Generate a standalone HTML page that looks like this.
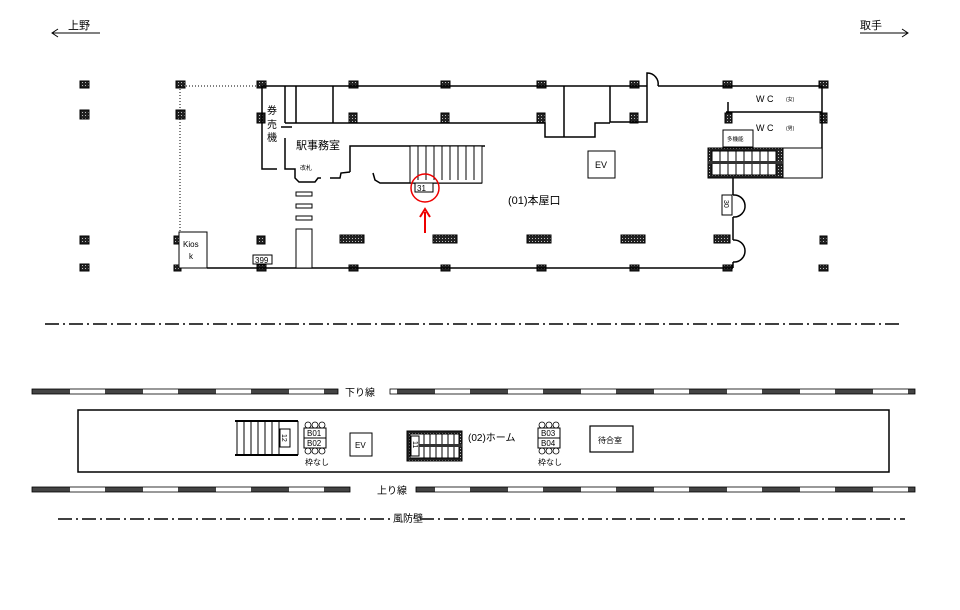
<!DOCTYPE html>
<html><head><meta charset="utf-8"><style>
body{margin:0;background:#fff}
text{font-family:"Liberation Sans","Noto Sans CJK JP",sans-serif;fill:#000}
</style></head><body>
<svg width="960" height="605" viewBox="0 0 960 605" xmlns="http://www.w3.org/2000/svg">
<defs>
<pattern id="rail" x="32" y="0" width="73" height="10" patternUnits="userSpaceOnUse">
<rect x="0" y="0" width="73" height="10" fill="#fff"/>
<rect x="0" y="0" width="38" height="10" fill="#444"/>
</pattern>
<pattern id="hat" width="3" height="3" patternUnits="userSpaceOnUse"><rect width="3" height="3" fill="#222"/><rect x="1" y="1" width="1" height="1" fill="#bbb"/></pattern>
</defs>
<g stroke="#000" stroke-width="1" fill="none">
<line x1="52" y1="33" x2="100" y2="33"/><polyline points="58,29 52,33 58,37"/>
<line x1="860" y1="33" x2="908" y2="33"/><polyline points="902,29 908,33 902,37"/>
</g>
<text x="68" y="29" font-size="11">上野</text>
<text x="860" y="29" font-size="11">取手</text>

<g fill="url(#hat)" stroke="#000" stroke-width="1">
<rect x="80" y="81" width="9" height="7"/><rect x="80" y="110" width="9" height="9"/><rect x="80" y="236" width="9" height="8"/><rect x="80" y="264" width="9" height="7"/>
<rect x="176" y="81" width="9" height="7"/><rect x="176" y="110" width="9" height="9"/><rect x="174" y="236" width="7" height="8"/><rect x="174" y="265" width="7" height="6"/>
<rect x="257" y="81" width="9" height="7"/><rect x="257" y="113" width="8" height="10"/><rect x="257" y="236" width="8" height="8"/><rect x="257" y="265" width="9" height="6"/>
<rect x="349" y="81" width="9" height="7"/><rect x="349" y="113" width="8" height="10"/><rect x="340" y="235" width="24" height="8"/><rect x="349" y="265" width="9" height="6"/>
<rect x="441" y="81" width="9" height="7"/><rect x="441" y="113" width="8" height="10"/><rect x="433" y="235" width="24" height="8"/><rect x="441" y="265" width="9" height="6"/>
<rect x="537" y="81" width="9" height="7"/><rect x="537" y="113" width="8" height="10"/><rect x="527" y="235" width="24" height="8"/><rect x="537" y="265" width="9" height="6"/>
<rect x="630" y="81" width="9" height="7"/><rect x="630" y="113" width="8" height="10"/><rect x="621" y="235" width="24" height="8"/><rect x="630" y="265" width="9" height="6"/>
<rect x="723" y="81" width="9" height="7"/><rect x="725" y="113" width="7" height="10"/><rect x="714" y="235" width="16" height="8"/><rect x="723" y="265" width="9" height="6"/>
<rect x="819" y="81" width="9" height="7"/><rect x="820" y="113" width="7" height="10"/><rect x="820" y="236" width="7" height="8"/><rect x="819" y="265" width="9" height="6"/>
</g>

<g stroke="#000" stroke-width="1.5" fill="none">
<line x1="262" y1="86" x2="647" y2="86"/><line x1="658" y1="86" x2="822" y2="86"/>
<line x1="207" y1="268" x2="733" y2="268"/>
<line x1="822" y1="86" x2="822" y2="178"/>
<polyline points="285,123 545,123 545,137 595,137 595,123 610,123"/>
<line x1="285" y1="86" x2="285" y2="123"/><line x1="296" y1="86" x2="296" y2="123"/><line x1="333" y1="86" x2="333" y2="123"/>
<line x1="564" y1="86" x2="564" y2="137"/>
<polyline points="610,86 610,122 647,122 647,86"/>
<path d="M647,86 L647,73 A11,11 0 0 1 658,86"/>
<polyline points="350,172 350,146 485,146"/>
<polyline points="262,86 262,169 277,169"/>
<line x1="281" y1="127" x2="292" y2="127"/>
<polyline points="285,138 285,169 295,169 295,178 299,182 315,182 318,178 321,178"/>
<polyline points="330,178 340,178 341,173 350,172"/>
<polyline points="373,173 375,180 380,183 482,183"/>
<line x1="726" y1="112" x2="822" y2="112"/><line x1="728" y1="102" x2="728" y2="112"/>
<line x1="733" y1="178" x2="733" y2="195"/><line x1="733" y1="217" x2="733" y2="240"/><line x1="733" y1="262" x2="733" y2="268"/>
<path d="M733,195 A11,11 0 0 1 745,205 A11,11 0 0 1 733,217"/>
<path d="M733,240 A11,11 0 0 1 745,251 A11,11 0 0 1 733,262"/>
</g>
<line x1="180" y1="86" x2="262" y2="86" stroke="#000" stroke-dasharray="1 2"/>
<line x1="180" y1="86" x2="180" y2="268" stroke="#000" stroke-dasharray="1 2"/>
<line x1="180" y1="268" x2="207" y2="268" stroke="#000" stroke-dasharray="1 2"/>

<g stroke="#000" stroke-width="1" fill="#fff">
<rect x="410" y="146" width="72" height="37"/>
<g><line x1="418" y1="146" x2="418" y2="180"/><line x1="426" y1="146" x2="426" y2="180"/><line x1="434" y1="146" x2="434" y2="180"/><line x1="442" y1="146" x2="442" y2="180"/><line x1="450" y1="146" x2="450" y2="180"/><line x1="458" y1="146" x2="458" y2="180"/><line x1="466" y1="146" x2="466" y2="180"/><line x1="474" y1="146" x2="474" y2="180"/></g>
<rect x="415" y="183" width="18" height="9"/>
<rect x="588" y="151" width="27" height="27"/>
<rect x="179" y="232" width="28" height="36"/>
<rect x="253" y="255" width="19" height="9"/>
<rect x="296" y="192" width="16" height="4"/><rect x="296" y="204" width="16" height="4"/><rect x="296" y="216" width="16" height="4"/>
<rect x="296" y="229" width="16" height="39"/>
<rect x="723" y="130" width="30" height="17"/>
<rect x="708" y="148" width="75" height="30" fill="url(#hat)"/>
<rect x="712" y="151" width="64" height="24" fill="#fff"/>
<rect x="783" y="148" width="39" height="30"/>
<rect x="722" y="195" width="10" height="20"/>
</g>
<g stroke="#000" stroke-width="1"><line x1="720" y1="151" x2="720" y2="175"/><line x1="728" y1="151" x2="728" y2="175"/><line x1="736" y1="151" x2="736" y2="175"/><line x1="744" y1="151" x2="744" y2="175"/><line x1="752" y1="151" x2="752" y2="175"/><line x1="760" y1="151" x2="760" y2="175"/><line x1="768" y1="151" x2="768" y2="175"/></g>
<rect x="708" y="161" width="75" height="3" fill="#333"/>
<circle cx="425" cy="188" r="14" fill="none" stroke="#e00" stroke-width="1.5"/>
<line x1="425" y1="233" x2="425" y2="212" stroke="#e00" stroke-width="2"/>
<polyline points="420,217 425,209 430,217" fill="none" stroke="#e00" stroke-width="2"/>

<text x="417" y="191" font-size="8">31</text>
<text x="595" y="168" font-size="9">EV</text>
<text x="508" y="204" font-size="11">(01)本屋口</text>
<text x="296" y="149" font-size="11">駅事務室</text>
<text x="300" y="170" font-size="6">改札</text>
<text x="267" y="114" font-size="10">券</text><text x="267" y="128" font-size="10">売</text><text x="267" y="141" font-size="10">機</text>
<text x="183" y="247" font-size="8">Kios</text><text x="189" y="259" font-size="8">k</text>
<text x="255" y="263" font-size="8">399</text>
<text x="756" y="102" font-size="9">W C</text><text x="786" y="101" font-size="5">(女)</text>
<text x="756" y="131" font-size="9">W C</text><text x="786" y="130" font-size="5">(男)</text>
<text x="727" y="141" font-size="5.5">多機能</text>
<text x="0" y="0" font-size="7" transform="translate(724,200) rotate(90)">30</text>

<line x1="45" y1="324" x2="900" y2="324" stroke="#000" stroke-width="1.5" stroke-dasharray="14 4 2 4"/>
<line x1="58" y1="519" x2="392" y2="519" stroke="#000" stroke-width="1.5" stroke-dasharray="14 4 2 4"/>
<line x1="420" y1="519" x2="905" y2="519" stroke="#000" stroke-width="1.5" stroke-dasharray="14 4 2 4"/>
<text x="393" y="522" font-size="10">風防壁</text>

<rect x="32" y="389" width="306" height="5" fill="url(#rail)" stroke="#000" stroke-width="0.8"/>
<rect x="390" y="389" width="525" height="5" fill="url(#rail)" stroke="#000" stroke-width="0.8"/>
<text x="345" y="396" font-size="10">下り線</text>
<rect x="32" y="487" width="318" height="5" fill="url(#rail)" stroke="#000" stroke-width="0.8"/>
<rect x="416" y="487" width="499" height="5" fill="url(#rail)" stroke="#000" stroke-width="0.8"/>
<text x="377" y="494" font-size="10">上り線</text>

<rect x="78" y="410" width="811" height="62" fill="none" stroke="#000" stroke-width="1.5"/>
<g stroke="#000" stroke-width="1" fill="#fff">
<line x1="235" y1="421" x2="298" y2="421" stroke-width="2"/><line x1="235" y1="455" x2="298" y2="455" stroke-width="2"/>
<line x1="237" y1="421" x2="237" y2="455"/><line x1="244" y1="421" x2="244" y2="455"/><line x1="251" y1="421" x2="251" y2="455"/><line x1="258" y1="421" x2="258" y2="455"/><line x1="265" y1="421" x2="265" y2="455"/><line x1="272" y1="421" x2="272" y2="455"/><line x1="279" y1="421" x2="279" y2="455"/><line x1="298" y1="421" x2="298" y2="455"/>
<rect x="280" y="429" width="10" height="18"/>
<rect x="304" y="428" width="22" height="10"/><rect x="304" y="438" width="22" height="10"/>
<rect x="538" y="428" width="22" height="10"/><rect x="538" y="438" width="22" height="10"/>
<rect x="350" y="433" width="22" height="23"/>
<rect x="407" y="431" width="55" height="30" fill="url(#hat)"/>
<rect x="410" y="434" width="49" height="24"/>
<rect x="411" y="436" width="8" height="20"/>
<rect x="590" y="426" width="43" height="26" stroke-width="1.2"/>
</g>
<g stroke="#000" stroke-width="1"><line x1="424" y1="434" x2="424" y2="458"/><line x1="430" y1="434" x2="430" y2="458"/><line x1="436" y1="434" x2="436" y2="458"/><line x1="442" y1="434" x2="442" y2="458"/><line x1="448" y1="434" x2="448" y2="458"/><line x1="454" y1="434" x2="454" y2="458"/></g>
<rect x="419" y="444" width="43" height="3" fill="#333"/>
<g fill="none" stroke="#000" stroke-width="0.8">
<circle cx="308" cy="425" r="3"/><circle cx="315" cy="425" r="3"/><circle cx="322" cy="425" r="3"/>
<circle cx="308" cy="451" r="3"/><circle cx="315" cy="451" r="3"/><circle cx="322" cy="451" r="3"/>
<circle cx="542" cy="425" r="3"/><circle cx="549" cy="425" r="3"/><circle cx="556" cy="425" r="3"/>
<circle cx="542" cy="451" r="3"/><circle cx="549" cy="451" r="3"/><circle cx="556" cy="451" r="3"/>
</g>
<text x="307" y="436" font-size="8">B01</text><text x="307" y="446" font-size="8">B02</text>
<text x="541" y="436" font-size="8">B03</text><text x="541" y="446" font-size="8">B04</text>
<text x="305" y="465" font-size="8">枠なし</text><text x="538" y="465" font-size="8">枠なし</text>
<text x="355" y="448" font-size="8">EV</text>
<text x="0" y="0" font-size="7" transform="translate(282,434) rotate(90)">12</text>
<text x="0" y="0" font-size="7" transform="translate(413,441) rotate(90)">11</text>
<text x="468" y="441" font-size="10">(02)ホーム</text>
<text x="598" y="443" font-size="8">待合室</text>
</svg>
</body></html>
